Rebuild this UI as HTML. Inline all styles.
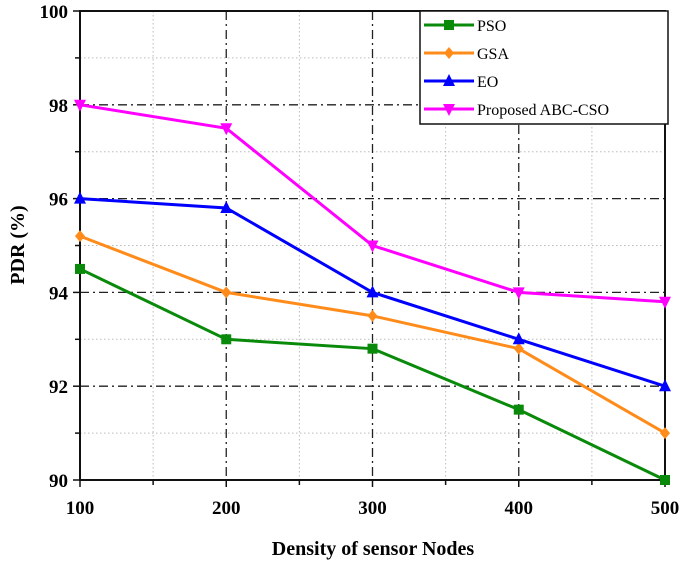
<!DOCTYPE html>
<html><head><meta charset="utf-8"><style>
body{margin:0;background:#fff;}
svg text{font-family:"Liberation Serif",serif;font-weight:bold;}
</style></head><body>
<svg id="c" width="685" height="563"></svg>
<script>
const categories=[100,200,300,400,500];
const psoValues=[94.5,93,92.8,91.5,90];
const gsaValues=[95.2,94,93.5,92.8,91];
const eoValues=[96,95.8,94,93,92];
const abcValues=[98,97.5,95,94,93.8];
const yTicks=[90,92,94,96,98,100];
const seriesNames=["PSO","GSA","EO","Proposed ABC-CSO"];
const L=80,R=665,T=11,B=480;
const xS=v=>L+(v-100)/400*(R-L);
const yS=v=>B-(v-90)/10*(B-T);
const svg=document.getElementById('c');
const NS='http://www.w3.org/2000/svg';
function mk(t,a,p){const e=document.createElementNS(NS,t);for(const k in a)e.setAttribute(k,a[k]);(p||svg).appendChild(e);return e;}
// minor grid
for(let v=150;v<500;v+=100){const g=mk('line',{x1:xS(v),x2:xS(v),y1:T,y2:B,stroke:'#bbb','stroke-dasharray':'1.5 2.5'});

}
for(let v=91;v<100;v+=2){const g=mk('line',{x1:L,x2:R,y1:yS(v),y2:yS(v),stroke:'#bbb','stroke-dasharray':'1.5 2.5'});

}
// major grid
categories.slice(1,-1).forEach(v=>{const g=mk('line',{x1:xS(v),x2:xS(v),y1:T,y2:B,stroke:'#222','stroke-width':1.3,'stroke-dasharray':'9 4 2 4'});

});
yTicks.slice(1,-1).forEach(v=>{const g=mk('line',{x1:L,x2:R,y1:yS(v),y2:yS(v),stroke:'#222','stroke-width':1.3,'stroke-dasharray':'9 4 2 4'});

});
// frame
const fr=mk('rect',{x:L,y:T,width:R-L,height:B-T,fill:'none',stroke:'#111','stroke-width':2});


// ticks and labels
categories.forEach(v=>{mk('line',{x1:xS(v),x2:xS(v),y1:B,y2:B+7,stroke:'#111','stroke-width':1.5});
const t=mk('text',{x:xS(v),y:B+34,'text-anchor':'middle','font-size':19});t.textContent=v;

});
for(let v=150;v<500;v+=100)mk('line',{x1:xS(v),x2:xS(v),y1:B,y2:B+5,stroke:'#111','stroke-width':1.5});
yTicks.forEach(v=>{mk('line',{x1:L-7,x2:L,y1:yS(v),y2:yS(v),stroke:'#111','stroke-width':1.5});
const t=mk('text',{x:L-12,y:yS(v)+7,'text-anchor':'end','font-size':19});t.textContent=v;

});
for(let v=91;v<100;v+=2)mk('line',{x1:L-5,x2:L,y1:yS(v),y2:yS(v),stroke:'#111','stroke-width':1.5});
const xt=mk('text',{x:373,y:555,'text-anchor':'middle','font-size':20});xt.textContent='Density of sensor Nodes';


const yt=mk('text',{x:0,y:0,'text-anchor':'middle','font-size':20,transform:'translate(24,245) rotate(-90)'});yt.textContent='PDR (%)';


// markers
function marker(type,x,y,c,p){
 if(type==='sq')return mk('rect',{x:x-5,y:y-5,width:10,height:10,fill:c},p);
 if(type==='dia')return mk('polygon',{points:`${x},${y-6} ${x+5},${y} ${x},${y+6} ${x-5},${y}`,fill:c},p);
 if(type==='up')return mk('polygon',{points:`${x},${y-7} ${x+6},${y+5} ${x-6},${y+5}`,fill:c},p);
 return mk('polygon',{points:`${x},${y+7} ${x+6},${y-5} ${x-6},${y-5}`,fill:c},p);}
const series=[[psoValues,'#0a8a0a','sq','pso'],[gsaValues,'#ff8c1a','dia','gsa'],[eoValues,'#0000ff','up','eo'],[abcValues,'#ff00ff','down','abc-cso']];
series.forEach(([vals,c,m,n])=>{
 const g=mk('g',{});
 
 
 mk('polyline',{points:vals.map((v,i)=>xS(categories[i])+','+yS(v)).join(' '),fill:'none',stroke:c,'stroke-width':3},g);
 vals.forEach((v,i)=>{const mm=marker(m,xS(categories[i]),yS(v),c,g);
 
 });
});
// legend
const lg=mk('g',{});


mk('rect',{x:420,y:11,width:248,height:113,fill:'#fff',stroke:'#111','stroke-width':1.5},lg);
series.forEach(([v,c,m,n],i)=>{const y=25+i*28;
 const e=mk('g',{},lg);
 
 
 mk('line',{x1:424,x2:474,y1:y,y2:y,stroke:c,'stroke-width':3},e);
 marker(m,449,y,c,e);
 const t=mk('text',{x:477,y:y+6,'font-size':16,'font-weight':'normal'},e);t.style.fontWeight='normal';t.textContent=seriesNames[i];});
</script>
</body></html>
